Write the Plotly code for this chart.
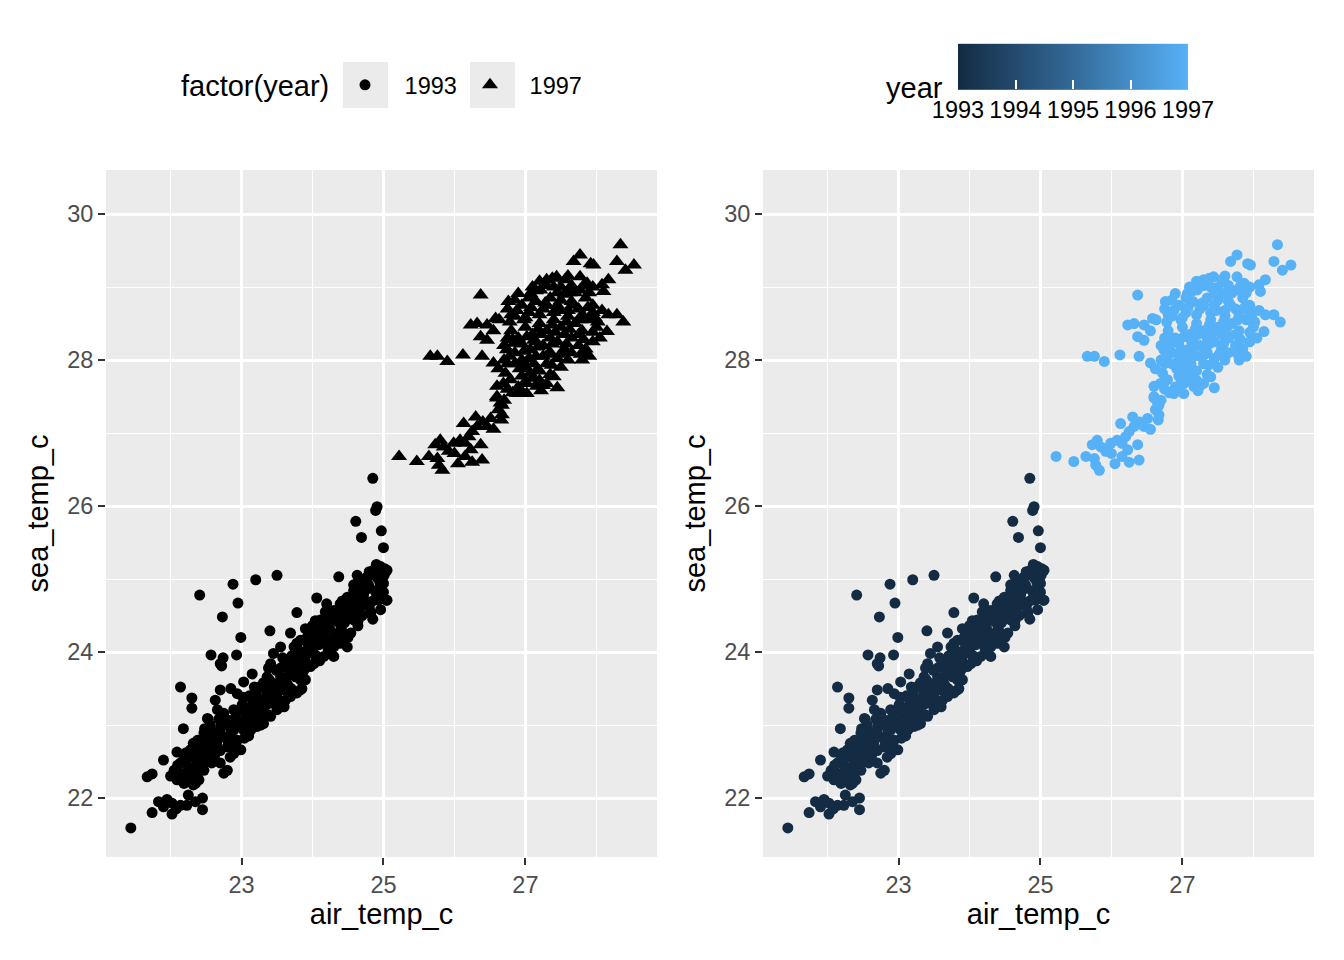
import plotly.graph_objects as go

air_1993 = [
    21.44, 21.74, 21.83, 21.90, 22.02, 22.02, 22.14, 22.23, 22.25, 22.45,
    22.45, 21.67, 21.74, 21.90, 22.09, 22.18, 22.14, 22.30, 22.30, 22.53,
    22.56, 22.75, 22.32, 22.70, 22.41, 22.88, 23.20, 23.50, 22.95, 22.73,
    23.40, 22.99, 23.78, 24.06, 22.57, 22.74, 22.72, 22.93, 23.15, 24.85,
    24.91, 24.89, 24.61, 24.97, 24.69, 25.00, 24.80, 24.90, 25.02, 24.98,
    24.37, 24.63, 24.93, 25.04, 24.82, 24.96, 24.64, 24.20, 24.18, 24.35,
    24.36, 24.04, 24.11, 23.90, 24.02, 23.69, 23.83, 23.74, 23.55, 23.45,
    23.41, 24.21, 24.30, 24.39, 24.49, 24.16, 24.30, 23.93, 23.83, 23.97,
    23.74, 23.64, 23.55, 23.83, 23.69, 23.60, 23.50, 23.41, 23.31, 23.22,
    23.13, 23.03, 23.27, 23.36, 22.70, 22.85, 22.94, 22.63, 22.66, 22.75,
    22.89, 22.99, 23.08, 22.52, 22.56, 22.70, 22.89, 23.13, 23.27, 22.05,
    22.14, 22.23, 22.33, 22.42, 22.52, 22.61, 22.70, 22.80, 22.09, 22.19,
    22.28, 22.38, 22.47, 22.19, 22.28, 22.38, 22.47, 22.66, 22.52, 22.80,
    22.89, 22.94, 22.99, 22.89, 22.80, 23.03, 23.22, 23.31, 23.41, 23.50,
    23.60, 23.36, 23.45, 23.55, 23.74, 23.83, 23.55, 23.69, 23.85, 23.93,
    24.02, 24.11, 24.21, 24.30, 24.39, 24.49, 24.58, 24.68, 24.77, 24.86,
    24.96, 25.05, 25.00, 25.05, 24.82, 24.68, 24.58, 24.54, 24.39, 24.07,
    23.93, 23.88, 23.83, 22.36, 22.55, 22.62, 22.74, 22.84, 22.95, 23.05,
    23.16, 23.24, 23.35, 23.44, 23.53, 23.63, 23.66, 23.76, 23.87, 23.95,
    24.03, 24.12, 24.24, 24.33, 24.44, 24.52, 24.62, 24.72, 24.78, 24.88,
    24.91, 22.42, 22.58, 22.84, 23.04, 23.18, 23.38, 23.62, 23.78, 24.02,
    24.22, 24.42, 24.64, 24.85, 22.48, 22.68, 23.02, 23.18, 23.38, 23.58,
    23.78, 24.00, 24.22, 24.42, 24.58, 24.76, 22.12, 22.25, 22.35, 22.20,
    22.40,
    22.30, 22.31, 22.40, 22.41, 22.50, 22.49, 22.60, 22.62, 22.70, 22.71,
    22.80, 22.78, 22.90, 22.91, 23.00, 23.01, 23.10, 23.09, 23.11, 23.20,
    23.21, 23.30, 23.29, 23.31, 23.40, 23.39, 23.50, 23.51, 23.49, 23.60,
    23.61, 23.70, 23.69, 23.71, 23.80, 23.81, 23.90, 23.89, 23.91, 24.00,
    24.01, 24.10, 24.09, 24.11, 24.20, 24.21, 24.30, 24.29, 24.40, 24.41,
    24.50, 24.49, 24.51, 24.60, 24.61, 24.70, 24.69, 24.71, 24.80, 24.79,
    24.90, 24.89, 25.00, 25.01, 21.95, 22.08, 22.35, 22.10, 22.22, 22.32,
    22.00, 22.35,
    22.45, 22.65, 22.85, 23.05, 23.25, 23.45, 23.65, 23.85, 24.05, 24.25,
    24.45, 24.65, 24.85, 23.15, 23.35, 23.55, 23.75, 23.95, 24.15, 24.35,
    24.55, 24.75, 24.95,
]
sea_1993 = [
    21.59, 21.80, 21.95, 21.88, 21.78, 21.93, 21.90, 21.90, 22.04, 22.00,
    21.84, 22.29, 22.33, 22.52, 22.63, 22.95, 23.52, 23.37, 23.23, 23.08,
    22.96, 22.34, 22.18, 23.84, 24.78, 24.93, 24.99, 25.05, 24.67, 24.48,
    24.29, 24.20, 24.54, 24.74, 23.96, 23.92, 23.81, 23.96, 23.70, 26.38,
    25.99, 25.94, 25.79, 25.66, 25.57, 25.43, 25.10, 25.20, 25.14, 24.97,
    25.03, 25.05, 24.71, 24.71, 24.55, 24.58, 24.42, 24.66, 24.55, 24.55,
    24.42, 24.43, 24.44, 24.32, 24.28, 24.26, 24.16, 24.07, 24.07, 23.98,
    23.84, 24.19, 24.07, 24.12, 24.07, 23.94, 23.94, 23.98, 23.84, 23.80,
    23.75, 23.66, 23.57, 23.48, 23.43, 23.25, 23.21, 23.12, 23.02, 22.98,
    23.25, 23.59, 23.53, 23.66, 23.48, 23.50, 23.43, 23.34, 23.21, 23.16,
    23.21, 23.21, 23.07, 23.09, 23.00, 22.93, 22.98, 22.93, 23.00, 22.38,
    22.48, 22.52, 22.42, 22.52, 22.61, 22.52, 22.48, 22.38, 22.25, 22.20,
    22.29, 22.34, 22.38, 22.57, 22.66, 22.79, 22.89, 22.89, 22.70, 23.02,
    22.93, 22.79, 22.66, 22.61, 22.70, 22.93, 23.12, 23.16, 23.30, 23.39,
    23.48, 23.43, 23.57, 23.66, 23.84, 23.94, 23.25, 23.39, 23.50, 24.21,
    24.30, 24.39, 24.48, 24.57, 24.66, 24.75, 24.84, 24.94, 25.03, 25.12,
    25.17, 25.12, 24.94, 24.71, 24.53, 24.62, 24.44, 24.26, 24.16, 24.12,
    24.03, 23.75, 23.62, 22.62, 22.78, 22.66, 22.84, 22.86, 23.05, 23.15,
    23.04, 23.32, 23.28, 23.47, 23.52, 23.58, 23.78, 23.66, 23.88, 24.08,
    23.96, 24.22, 24.33, 24.25, 24.48, 24.58, 24.72, 24.78, 24.68, 24.84,
    25.02, 22.45, 22.48, 22.56, 22.82, 23.08, 23.14, 23.34, 23.44, 23.84,
    24.04, 24.28, 24.36, 24.45, 22.95, 23.08, 23.38, 23.52, 23.78, 23.92,
    24.12, 24.36, 24.58, 24.70, 24.92, 25.00, 22.35, 22.40, 22.55, 22.30,
    22.25,
    22.32, 22.60, 22.70, 22.40, 22.50, 22.78, 22.85, 22.58, 22.65, 22.98,
    22.80, 23.08, 22.72, 23.10, 22.98, 23.28, 22.85, 23.15, 23.40, 23.20,
    23.45, 23.10, 23.35, 23.58, 23.38, 23.62, 23.30, 23.50, 23.75, 23.62,
    23.85, 23.50, 23.70, 23.95, 23.75, 24.02, 23.62, 23.90, 24.15, 24.02,
    24.22, 23.88, 24.10, 24.32, 24.15, 24.40, 24.20, 24.45, 24.35, 24.58,
    24.20, 24.45, 24.68, 24.55, 24.78, 24.50, 24.70, 24.88, 24.62, 24.92,
    24.75, 25.05, 24.82, 25.05, 21.98, 21.85, 21.95, 22.45, 22.62, 22.75,
    22.30, 22.20,
    22.65, 22.75, 22.95, 23.05, 23.22, 23.40, 23.55, 23.72, 23.95, 24.18,
    24.40, 24.52, 24.70, 23.35, 23.52, 23.78, 23.88, 24.12, 24.28, 24.52,
    24.65, 24.85, 24.95,
]

# 1997 observations
air_1997 = [
    25.22, 25.47, 25.64, 25.76, 25.78, 25.83, 25.80, 25.73, 25.85, 25.99,
    26.08, 26.15, 26.15, 26.23, 26.39, 26.37, 26.13, 26.30, 26.32, 26.51,
    26.46, 26.60, 26.67, 26.67, 26.69, 26.79, 26.90, 27.02, 26.88, 26.98,
    27.07, 27.16, 26.74, 26.84, 26.98, 27.07, 27.12, 25.66, 25.76, 25.90,
    26.12, 26.39, 26.55, 26.37, 26.46, 28.34, 28.29, 28.41, 28.53, 27.68,
    27.77, 27.92, 27.96, 28.08, 28.17, 28.10, 28.08, 28.17, 28.29, 28.38,
    28.15, 26.37, 26.23, 26.32, 26.46, 26.58, 26.63, 26.76, 26.90, 27.07,
    27.21, 27.30, 27.44, 27.56, 27.77, 27.87, 27.77, 26.60, 26.93, 27.16,
    27.30, 27.40, 27.37, 26.60, 26.65, 26.75, 26.85, 26.95, 27.05, 27.15,
    27.25, 27.35, 27.45, 27.55, 27.65, 27.75, 27.85, 27.95, 26.80, 26.90,
    27.00, 27.10, 27.20, 27.30, 27.40, 27.50, 27.60, 27.70, 27.80, 27.90,
    28.00, 26.85, 26.95, 27.15, 27.25, 27.35, 27.45, 27.55, 27.65, 27.75,
    27.85, 27.95, 27.00, 27.10, 27.20, 27.30, 27.50, 27.60, 27.80, 27.90,
    27.25, 27.45, 27.10, 27.30, 27.50, 27.60, 26.55, 26.70, 26.75, 26.62,
    26.70,
    27.40, 27.65, 27.95, 27.20, 26.80, 27.00, 27.20, 27.40, 27.60, 27.80,
    27.95, 26.75, 26.95, 27.15, 27.35, 27.55, 27.75, 27.95, 28.05, 26.85,
    27.05, 27.25, 27.45, 27.65, 27.85, 26.75, 26.95, 27.20, 27.35, 26.85,
    27.05, 27.30, 27.50, 27.70, 27.90, 26.62, 26.66, 26.55, 26.40, 26.25,
    26.20, 26.00, 26.25, 26.05, 25.92,
    26.88, 27.08, 27.28, 27.48, 27.68, 27.88, 26.78, 26.98, 27.18, 27.38,
    27.58, 27.78, 27.98, 26.82, 27.02, 27.22, 27.42, 27.62, 27.82, 28.02,
    26.78, 26.98, 27.18, 27.38, 27.58, 27.78, 26.72, 26.92, 27.12, 27.32,
    27.52, 26.82, 27.02, 27.22, 26.70, 27.15, 27.45, 27.62, 27.82, 27.38,
]
sea_1997 = [
    26.68, 26.61, 26.68, 26.65, 26.56, 26.49, 26.90, 26.84, 26.81, 26.86,
    26.90, 26.86, 26.68, 26.77, 26.63, 26.84, 27.13, 27.22, 27.09, 27.20,
    27.09, 27.48, 27.38, 27.25, 27.68, 27.73, 27.63, 27.54, 27.54, 27.68,
    27.82, 27.86, 28.14, 28.23, 27.95, 28.14, 28.27, 28.05, 28.05, 27.98,
    28.07, 28.05, 27.96, 28.32, 28.27, 29.58, 29.35, 29.23, 29.30, 29.35,
    29.44, 29.32, 29.30, 29.03, 29.10, 28.94, 28.68, 28.62, 28.62, 28.52,
    28.39, 28.89, 28.48, 28.50, 28.48, 28.57, 28.55, 28.80, 28.91, 28.91,
    28.96, 29.10, 29.14, 29.10, 29.14, 29.05, 28.96, 27.64, 27.59, 27.64,
    27.68, 27.77, 27.93, 27.50, 27.41, 28.70, 28.60, 28.75, 28.65, 28.80,
    28.70, 28.85, 28.75, 28.90, 28.80, 28.70, 28.85, 28.75, 28.40, 28.30,
    28.45, 28.35, 28.50, 28.40, 28.55, 28.45, 28.60, 28.50, 28.40, 28.55,
    28.45, 28.10, 28.00, 28.05, 28.20, 28.10, 28.25, 28.15, 28.30, 28.20,
    28.10, 28.25, 27.90, 27.75, 27.85, 27.95, 27.90, 28.00, 28.00, 28.05,
    27.65, 27.62, 29.00, 29.02, 29.00, 29.15, 28.40, 28.20, 27.95, 27.88,
    28.00,
    29.00, 29.02, 29.00, 29.08, 28.62, 28.58, 28.62, 28.65, 28.68, 28.62,
    28.65, 28.30, 28.22, 28.25, 28.30, 28.35, 28.35, 28.38, 28.30, 27.95,
    28.02, 28.05, 28.02, 28.10, 28.15, 27.60, 27.78, 27.72, 27.80, 28.82,
    28.85, 28.75, 28.82, 28.92, 28.92, 27.32, 27.18, 27.05, 27.15, 27.02,
    26.95, 26.72, 26.60, 26.58, 26.75,
    28.68, 28.72, 28.78, 28.68, 28.75, 28.72, 28.52, 28.55, 28.42, 28.48,
    28.52, 28.55, 28.58, 28.28, 28.32, 28.35, 28.38, 28.42, 28.28, 28.52,
    28.05, 28.12, 28.18, 28.22, 28.22, 28.08, 27.82, 27.88, 27.95, 28.08,
    28.08, 27.55, 27.68, 27.58, 27.45, 28.95, 28.92, 28.92, 29.02, 29.12,
]

years = [1993, 1997]
year_ticks = [1993, 1994, 1995, 1996, 1997]

# the page puts the figure 8px in from the top-left corner
FW, FH = 1336, 952
def fx(sx):
    return (sx - 8) / FW
def fy(sy):
    return (FH - (sy - 8)) / FH

FONT = "Liberation Sans"
AX_TXT = 23.5
TITLE_TXT = 29

fig = go.Figure()

# panel 1 : shape by factor(year)
fig.add_trace(go.Scatter(
    x=air_1993, y=sea_1993, mode="markers", name="\u00a0\u00a0\u00a01993",
    marker=dict(symbol="circle", size=11, color="black"),
    xaxis="x", yaxis="y",
))
fig.add_trace(go.Scatter(
    x=air_1997, y=sea_1997, mode="markers", name="\u00a0\u00a0\u00a01997",
    marker=dict(symbol="triangle-up", size=14, color="black"),
    xaxis="x", yaxis="y",
))

# panel 2 : colour by continuous year
all_air = air_1993 + air_1997
all_sea = sea_1993 + sea_1997
all_year = [years[0]] * len(air_1993) + [years[1]] * len(air_1997)
fig.add_trace(go.Scatter(
    x=all_air, y=all_sea, mode="markers", showlegend=False,
    marker=dict(
        size=11, color=all_year, cmin=1993, cmax=1997,
        colorscale=[[0, "#132B43"], [0.5, "#336A98"], [1, "#56B1F7"]],
        colorbar=dict(
            orientation="h", x=fx(958), xanchor="left",
            y=fy(133), yanchor="bottom",
            len=230, lenmode="pixels", thickness=46,
            xpad=0, ypad=0, outlinewidth=0,
            tickvals=year_ticks, ticks="inside", ticklen=9,
            tickcolor="white", tickwidth=1.5,
            tickfont=dict(family=FONT, size=AX_TXT, color="black"),
        ),
    ),
    xaxis="x2", yaxis="y2",
))

xr = [21.09, 28.855]
yr = [21.192, 30.603]

def xax(domain):
    return dict(
        domain=domain, range=xr, tick0=23, dtick=2,
        showgrid=True, gridcolor="white", gridwidth=2.8,
        minor=dict(dtick=1, showgrid=True, gridcolor="white", gridwidth=1.4),
        zeroline=False, showline=False,
        ticks="outside", ticklen=7, tickwidth=2, tickcolor="#333333",
        tickfont=dict(family=FONT, size=AX_TXT, color="#4D4D4D"),
        title=dict(text="air_temp_c", font=dict(family=FONT, size=TITLE_TXT, color="black"), standoff=6),
        automargin=False,
    )

def yax(anchor):
    return dict(
        domain=[fy(857), fy(170)], range=yr, tick0=22, dtick=2,
        showgrid=True, gridcolor="white", gridwidth=2.8,
        minor=dict(dtick=1, showgrid=True, gridcolor="white", gridwidth=1.4),
        zeroline=False, showline=False, anchor=anchor,
        ticks="outside", ticklen=7, tickwidth=2, tickcolor="#333333",
        tickfont=dict(family=FONT, size=AX_TXT, color="#4D4D4D"),
        title=dict(text="sea_temp_c", font=dict(family=FONT, size=TITLE_TXT, color="black"), standoff=10),
        automargin=False,
    )

# grey legend key backgrounds
shapes = []
for x0 in [343, 470]:
    shapes.append(dict(
        type="rect", xref="paper", yref="paper", layer="below",
        x0=fx(x0), x1=fx(x0 + 45), y0=fy(108), y1=fy(62),
        fillcolor="#EBEBEB", line=dict(width=0),
    ))

fig.update_layout(
    width=FW, height=FH,
    margin=dict(l=0, r=0, t=0, b=0),
    paper_bgcolor="white", plot_bgcolor="#EBEBEB",
    font=dict(family=FONT, color="black"),
    xaxis=xax([fx(106), fx(657)]),
    yaxis=yax("x"),
    xaxis2=xax([fx(763), fx(1314)]),
    yaxis2=yax("x2"),
    shapes=shapes,
    showlegend=True,
    legend=dict(
        orientation="h", x=fx(345), xanchor="left", y=fy(85), yanchor="middle",
        bgcolor="rgba(0,0,0,0)", borderwidth=0, entrywidth=80,
        font=dict(family=FONT, size=AX_TXT, color="black"),
        itemclick=False,
    ),
    annotations=[
        dict(text="year", xref="paper", yref="paper", x=fx(945), y=fy(88),
             xanchor="right", yanchor="middle", showarrow=False,
             font=dict(family=FONT, size=TITLE_TXT, color="black")),
        dict(text="factor(year)", xref="paper", yref="paper", x=fx(179), y=fy(86),
             xanchor="left", yanchor="middle", showarrow=False,
             font=dict(family=FONT, size=TITLE_TXT, color="black")),
    ],
)

fig.write_html("out.html")
